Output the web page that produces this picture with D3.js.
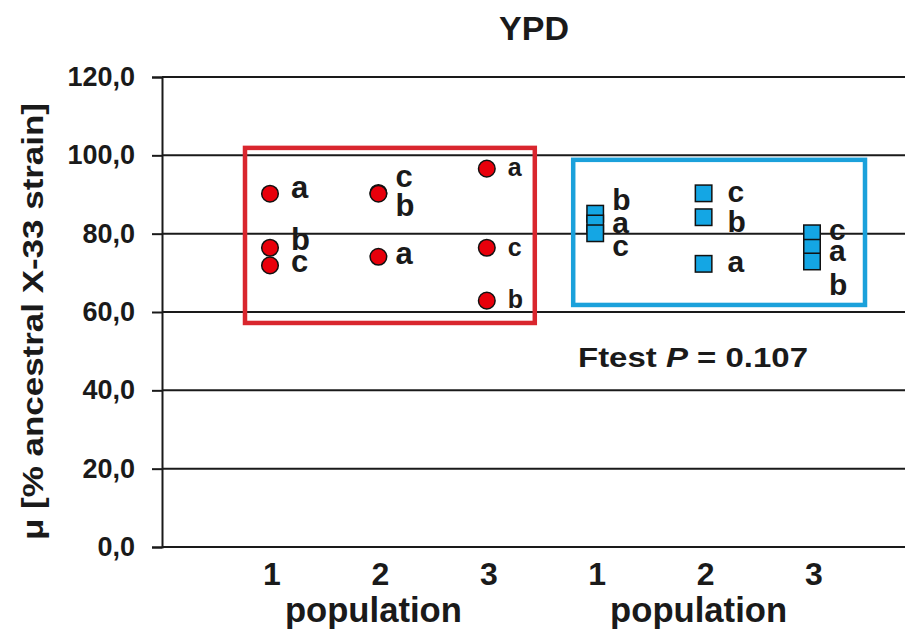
<!DOCTYPE html>
<html>
<head>
<meta charset="utf-8">
<script src="https://cdn.jsdelivr.net/npm/d3@7"></script>
<style>
  body { margin: 0; background: #fff; }
  svg { font-family: "Liberation Sans", Arial, sans-serif; font-weight: bold; }
</style>
</head>
<body>
<div id="chart"></div>
<script>
// categories (two groups of three populations)
const categories = ['r1', 'r2', 'r3', 'b1', 'b2', 'b3'];
const tickLabels = ['1', '2', '3', '1', '2', '3'];
const yTicks = [0, 20, 40, 60, 80, 100, 120];

// red circles
const redCat = ['r1', 'r1', 'r1', 'r2', 'r2', 'r2', 'r3', 'r3', 'r3'];
const redValues = [90.2, 76.4, 71.9, 90.4, 90.2, 74.1, 96.6, 76.4, 62.9];
const redLetters = ['a', 'b', 'c', 'c', 'b', 'a', 'a', 'c', 'b'];
const redLetterAt = [89.1, 75.9, 70.3, 92.0, 84.4, 72.3, 94.6, 74.2, 61.0];

// blue squares
const blueCat = ['b1', 'b1', 'b1', 'b2', 'b2', 'b2', 'b3', 'b3', 'b3'];
const blueValues = [85.1, 82.6, 80.1, 90.3, 84.2, 72.3, 80.1, 76.4, 72.9];
const blueLetters = ['b', 'a', 'c', 'c', 'b', 'a', 'c', 'a', 'b'];
const blueLetterAt = [86.1, 80.2, 74.2, 88.2, 80.5, 70.1, 78.4, 72.9, 64.4];

// group boxes [from, to] in y units
const redBox = [57.2, 101.9];
const blueBox = [61.8, 98.85];

const width = 908;
const height = 631;
const axisX = 162;

const y = d3.scaleLinear().domain([0, 120]).range([547, 77]);
const x = d3.scalePoint().domain(categories).range([270, 812]);
const fmt = v => d3.format('.1f')(v).replace('.', ',');

const svg = d3.select('#chart').append('svg')
	.attr('width', width)
	.attr('height', height);

// gridlines
svg.append('g').attr('class', 'grid')
	.selectAll('line')
	.data(yTicks)
	.join('line')
	.attr('x1', axisX)
	.attr('x2', 905)
	.attr('y1', d => y(d))
	.attr('y2', d => y(d))
	.attr('stroke', '#1a1a1a')
	.attr('stroke-width', 2);

// y axis
const $yAxis = svg.append('g')
	.attr('transform', `translate(${axisX},0)`)
	.call(d3.axisLeft(y).tickValues(yTicks).tickSize(10).tickPadding(17).tickFormat(fmt));
$yAxis.select('.domain').attr('stroke', '#1a1a1a').attr('stroke-width', 2);
$yAxis.selectAll('.tick line').attr('stroke', '#1a1a1a').attr('stroke-width', 2);
$yAxis.selectAll('.tick text')
	.attr('fill', '#1a1a1a')
	.style('font-size', '27px')
	.style('font-family', '"Liberation Sans", Arial, sans-serif')
	.style('font-weight', 'bold');

// x tick labels
svg.append('g')
	.selectAll('text')
	.data(categories)
	.join('text')
	.attr('x', d => x(d) + 2)
	.attr('y', 585)
	.attr('text-anchor', 'middle')
	.attr('fill', '#1a1a1a')
	.style('font-size', '32px')
	.text((d, i) => tickLabels[i]);

// x titles
[['r1', 'r3'], ['b1', 'b3']].forEach(([a, b]) => {
	svg.append('text')
		.attr('x', (x(a) + x(b)) / 2 - 5)
		.attr('y', 622)
		.attr('text-anchor', 'middle')
		.attr('fill', '#1a1a1a')
		.style('font-size', '35px')
		.attr('textLength', 177)
		.attr('lengthAdjust', 'spacingAndGlyphs')
		.text('population');
});

// y title
svg.append('text')
	.attr('transform', `translate(43, ${(103 + 540) / 2}) rotate(-90)`)
	.attr('text-anchor', 'middle')
	.attr('fill', '#1a1a1a')
	.style('font-size', '29px')
	.attr('textLength', 437)
	.attr('lengthAdjust', 'spacingAndGlyphs')
	.text('μ [% ancestral X-33 strain]');

// chart title
svg.append('text')
	.attr('x', 534)
	.attr('y', 40)
	.attr('text-anchor', 'middle')
	.attr('fill', '#1a1a1a')
	.style('font-size', '34px')
	.text('YPD');

// group boxes
svg.append('rect')
	.attr('x', x('r1') - 25)
	.attr('y', y(redBox[1]))
	.attr('width', x('r3') - x('r1') + 73)
	.attr('height', y(redBox[0]) - y(redBox[1]))
	.attr('fill', 'none')
	.attr('stroke', '#d9262e')
	.attr('stroke-width', 4.5);

svg.append('rect')
	.attr('x', x('b1') - 22)
	.attr('y', y(blueBox[1]))
	.attr('width', x('b3') - x('b1') + 75)
	.attr('height', y(blueBox[0]) - y(blueBox[1]))
	.attr('fill', 'none')
	.attr('stroke', '#1ba1db')
	.attr('stroke-width', 4.5);

// red points
svg.append('g')
	.selectAll('circle')
	.data(redValues)
	.join('circle')
	.attr('cx', (d, i) => x(redCat[i]))
	.attr('cy', d => y(d))
	.attr('r', 8.3)
	.attr('fill', '#e8000b')
	.attr('stroke', '#111')
	.attr('stroke-width', 1.5);

svg.append('g')
	.selectAll('text')
	.data(redLetters)
	.join('text')
	.attr('x', (d, i) => x(redCat[i]) + (redCat[i] === 'r2' ? 17 : 21))
	.attr('y', (d, i) => y(redLetterAt[i]))
	.attr('fill', '#1a1a1a')
	.style('font-size', (d, i) => redCat[i] === 'r3' ? '25px' : '31px')
	.text(d => d);

// blue points
const sq = 16.5;
svg.append('g')
	.selectAll('rect')
	.data(blueValues)
	.join('rect')
	.attr('x', (d, i) => x(blueCat[i]) - sq / 2)
	.attr('y', d => y(d) - sq / 2)
	.attr('width', sq)
	.attr('height', sq)
	.attr('fill', '#14a6e4')
	.attr('stroke', '#111')
	.attr('stroke-width', 1.5);

svg.append('g')
	.selectAll('text')
	.data(blueLetters)
	.join('text')
	.attr('x', (d, i) => x(blueCat[i]) + (blueCat[i] === 'b2' ? 24 : 17))
	.attr('y', (d, i) => y(blueLetterAt[i]))
	.attr('fill', '#1a1a1a')
	.style('font-size', '30px')
	.text(d => d);

// F test annotation
const $f = svg.append('text')
	.attr('x', 578)
	.attr('y', y(46))
	.attr('fill', '#1a1a1a')
	.style('font-size', '28px')
	.attr('textLength', 230)
	.attr('lengthAdjust', 'spacingAndGlyphs');
$f.append('tspan').text('Ftest ');
$f.append('tspan').style('font-style', 'italic').text('P');
$f.append('tspan').text(' = 0.107');
</script>
</body>
</html>
